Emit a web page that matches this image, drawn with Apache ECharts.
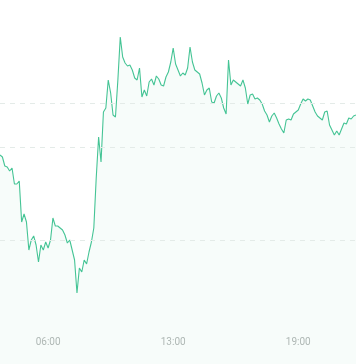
<!DOCTYPE html>
<html>
<head>
<meta charset="utf-8">
<script src="https://cdn.jsdelivr.net/npm/echarts@6/dist/echarts.min.js"></script>
<style>
html,body{margin:0;padding:0;background:#fff;}
#chart{width:356px;height:364px;}
</style>
</head>
<body>
<div id="chart"></div>
<script>
// Price series (one point per sample)
var prices = [
222,220,211,210,206,209,193,193,196,155,
163,155,127,137,141,132,115,132,127,135,
129,137,159,151,151,149,147,142,134,137,
127,117,84,109,105,117,113,125,135,149,
199,240,215,265,269,297,284,262,260,297,
340,320,314,311,312,307,299,297,309,280,
287,281,295,298,292,301,298,292,291,300,
305,315,329,313,307,301,304,302,309,330,
315,307,305,303,294,282,287,289,275,274,
281,284,279,269,263,317,292,297,295,293,
291,297,289,273,282,283,278,279,277,273,
266,262,255,261,264,259,253,248,244,257,
258,257,263,265,267,273,278,276,278,277,
271,265,261,259,257,265,266,252,247,242,
246,242,248,254,253,259,258,261,262
];
// Reference (previous close) level and horizontal guide levels
var prevClose = 230;
var guideLevels = [137, 274];
// Axis range
var yMin = 13, yMax = 377;
// Time tick labels and the sample index where each appears
var tickLabels = ['06:00', '13:00', '19:00'];
var tickIndex = [20, 72, 124];

var categories = prices.map(function (_, i) {
  var k = tickIndex.indexOf(i);
  return k >= 0 ? tickLabels[k] : '';
});

var dash = {color: '#e4ebe8', type: [5, 5], width: 1};
var lineData = guideLevels.concat([prevClose]).map(function (v) { return {yAxis: v}; });

var chart = echarts.init(document.getElementById('chart'), null, {renderer: 'canvas'});
chart.setOption({
  backgroundColor: '#ffffff',
  animation: false,
  grid: {left: 0, right: 0, top: 0, bottom: 0},
  xAxis: {
    type: 'category',
    data: categories,
    boundaryGap: false,
    axisLine: {show: false},
    axisTick: {show: false},
    splitLine: {show: false},
    axisLabel: {
      inside: true,
      margin: 17,
      interval: function (idx) { return tickIndex.indexOf(idx) >= 0; },
      color: '#b4b8b7',
      fontSize: 10,
      fontFamily: 'Roboto, sans-serif'
    }
  },
  yAxis: {
    type: 'value',
    min: yMin,
    max: yMax,
    axisLine: {show: false},
    axisTick: {show: false},
    axisLabel: {show: false},
    splitLine: {show: false}
  },
  series: [{
    type: 'line',
    data: prices,
    symbol: 'none',
    smooth: false,
    lineStyle: {color: '#45c495', width: 1.1},
    areaStyle: {color: 'rgba(61,191,143,0.06)'},
    markLine: {
      silent: true,
      symbol: 'none',
      label: {show: false},
      lineStyle: dash,
      data: lineData
    }
  }]
});
</script>
</body>
</html>
